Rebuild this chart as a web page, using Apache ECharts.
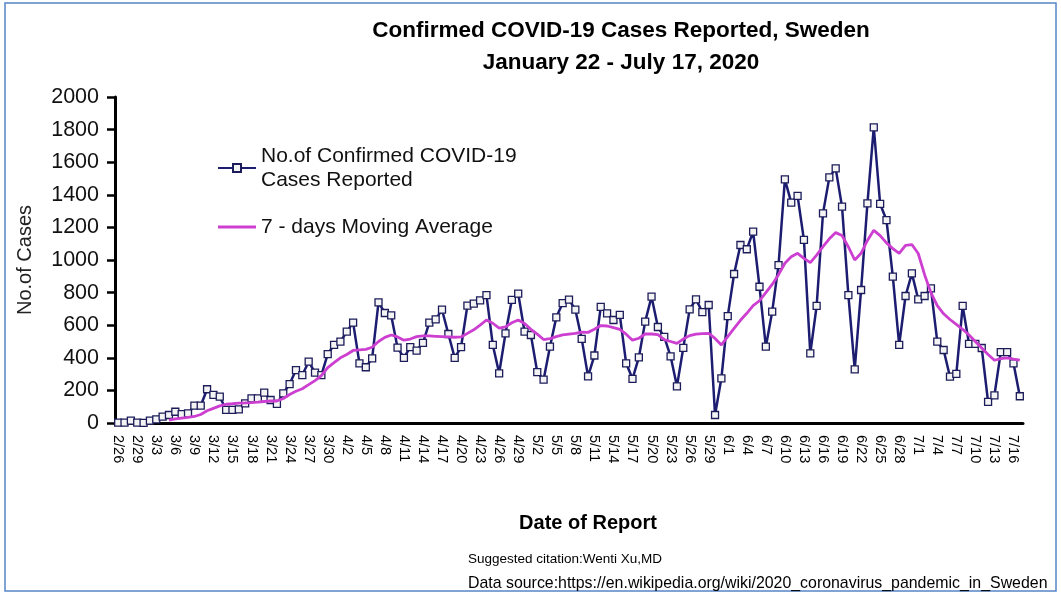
<!DOCTYPE html>
<html>
<head>
<meta charset="utf-8">
<script src="https://cdn.jsdelivr.net/npm/echarts@6/dist/echarts.min.js"></script>
<style>
  html, body { margin: 0; padding: 0; background: #fff; }
  #chart { width: 1061px; height: 594px; }
</style>
</head>
<body>
<div id="chart"></div>
<script>
// dates of report, 2/26 - 7/17
const febDays = ['2/26', '2/27', '2/28', '2/29']
const marDays = ['3/1', '3/2', '3/3', '3/4', '3/5', '3/6', '3/7', '3/8', '3/9', '3/10', '3/11', '3/12', '3/13', '3/14', '3/15', '3/16', '3/17', '3/18', '3/19', '3/20', '3/21', '3/22', '3/23', '3/24', '3/25', '3/26', '3/27', '3/28', '3/29', '3/30', '3/31']
const aprDays = ['4/1', '4/2', '4/3', '4/4', '4/5', '4/6', '4/7', '4/8', '4/9', '4/10', '4/11', '4/12', '4/13', '4/14', '4/15', '4/16', '4/17', '4/18', '4/19', '4/20', '4/21', '4/22', '4/23', '4/24', '4/25', '4/26', '4/27', '4/28', '4/29', '4/30']
const mayDays = ['5/1', '5/2', '5/3', '5/4', '5/5', '5/6', '5/7', '5/8', '5/9', '5/10', '5/11', '5/12', '5/13', '5/14', '5/15', '5/16', '5/17', '5/18', '5/19', '5/20', '5/21', '5/22', '5/23', '5/24', '5/25', '5/26', '5/27', '5/28', '5/29', '5/30', '5/31']
const junDays = ['6/1', '6/2', '6/3', '6/4', '6/5', '6/6', '6/7', '6/8', '6/9', '6/10', '6/11', '6/12', '6/13', '6/14', '6/15', '6/16', '6/17', '6/18', '6/19', '6/20', '6/21', '6/22', '6/23', '6/24', '6/25', '6/26', '6/27', '6/28', '6/29', '6/30']
const julDays = ['7/1', '7/2', '7/3', '7/4', '7/5', '7/6', '7/7', '7/8', '7/9', '7/10', '7/11', '7/12', '7/13', '7/14', '7/15', '7/16', '7/17']

// confirmed cases reported per day
const febCases = [2, 2, 14, 2]
const marCases = [1, 14, 22, 39, 49, 69, 55, 59, 106, 106, 207, 172, 162, 80, 80, 84, 121, 151, 151, 186, 141, 117, 182, 239, 325, 294, 376, 309, 294, 423, 479]
const aprCases = [499, 560, 616, 366, 342, 397, 740, 675, 660, 462, 400, 466, 444, 491, 616, 636, 695, 546, 400, 466, 720, 732, 752, 785, 479, 305, 550, 755, 794, 560]
const mayCases = [540, 312, 266, 468, 648, 736, 757, 695, 516, 286, 414, 712, 673, 632, 663, 366, 271, 402, 622, 775, 589, 528, 409, 225, 461, 697, 759, 680, 724, 49, 274]
const junCases = [656, 914, 1092, 1066, 1174, 836, 468, 683, 969, 1495, 1352, 1393, 1123, 427, 718, 1286, 1507, 1562, 1327, 785, 329, 816, 1348, 1814, 1344, 1245, 898, 479, 779, 918]
const julCases = [759, 779, 826, 499, 448, 284, 301, 718, 486, 486, 460, 130, 170, 435, 435, 366, 164]

// 7 - days moving average
const febAvg = [null, null, null, null]
const marAvg = [null, null, null, null, 18, 25, 30, 35, 40, 52, 75, 90, 105, 115, 118, 122, 123, 125, 128, 132, 135, 135, 150, 175, 195, 210, 235, 260, 290, 340, 370]
const aprAvg = [400, 420, 445, 448, 452, 465, 500, 525, 540, 528, 508, 515, 530, 534, 534, 532, 530, 528, 526, 528, 550, 572, 600, 632, 612, 582, 590, 615, 632, 610]
const mayAvg = [575, 545, 512, 518, 530, 540, 545, 550, 558, 556, 575, 598, 595, 585, 575, 545, 508, 520, 546, 546, 542, 512, 500, 488, 515, 536, 545, 548, 550, 519, 479]
const junAvg = [530, 580, 630, 673, 720, 750, 800, 850, 910, 980, 1020, 1041, 1010, 984, 1030, 1082, 1130, 1168, 1150, 1080, 1000, 1041, 1120, 1182, 1150, 1105, 1070, 1041, 1090, 1095]
const julAvg = [1040, 910, 800, 720, 670, 635, 605, 575, 540, 500, 460, 420, 385, 395, 400, 392, 385]

const dates = [].concat(febDays, marDays, aprDays, mayDays, junDays, julDays)
const cases = [].concat(febCases, marCases, aprCases, mayCases, junCases, julCases)
const movingAvg = [].concat(febAvg, marAvg, aprAvg, mayAvg, junAvg, julAvg)

const yTicks = { min: 0, max: 2000, interval: 200 }

const font = '"Liberation Sans", Arial, sans-serif'
const casesName = 'No.of Confirmed COVID-19\nCases Reported'
const avgName = '7 - days Moving Average'

const chart = echarts.init(document.getElementById('chart'))

const option = {
  backgroundColor: '#fff',
  animation: false,
  textStyle: { fontFamily: font },
  title: [
    {
      text: 'Confirmed COVID-19 Cases Reported, Sweden\nJanuary 22 - July 17, 2020',
      left: 616,
      top: 10,
      textAlign: 'center',
      textStyle: { fontFamily: font, fontSize: 22.5, fontWeight: 'bold', color: '#000', lineHeight: 32 }
    },
    {
      text: 'Date of Report',
      left: 583,
      top: 508,
      textAlign: 'center',
      textStyle: { fontFamily: font, fontSize: 20, fontWeight: 'bold', color: '#000' }
    },
    {
      text: 'Suggested citation:Wenti Xu,MD',
      left: 463,
      top: 547,
      textStyle: { fontFamily: font, fontSize: 13.5, fontWeight: 'normal', color: '#000' }
    },
    {
      text: 'Data source:https://en.wikipedia.org/wiki/2020_coronavirus_pandemic_in_Sweden',
      left: 463,
      top: 571,
      textStyle: { fontFamily: font, fontSize: 15.9, fontWeight: 'normal', color: '#000' }
    }
  ],
  legend: {
    orient: 'vertical',
    left: 212,
    top: 127,
    itemWidth: 38,
    itemHeight: 10,
    itemGap: 11,
    textStyle: { fontFamily: font, fontSize: 21, color: '#111', lineHeight: 24 },
    data: [
      { name: casesName, textStyle: { padding: [24, 0, 0, 0] } },
      { name: avgName, icon: 'path://M0,0 L38,0 L38,3 L0,3 Z' }
    ]
  },
  grid: {
    left: 115,
    right: 38,
    top: 97,
    bottom: 171,
    containLabel: false
  },
  xAxis: {
    type: 'category',
    data: dates,
    boundaryGap: true,
    axisLine: { lineStyle: { color: '#000', width: 3 } },
    axisTick: { interval: 2, length: 7, lineStyle: { color: '#000', width: 2.5 } },
    axisLabel: {
      interval: 2,
      rotate: -90,
      margin: 12,
      fontFamily: font,
      fontSize: 14.5,
      color: '#000'
    },
    splitLine: { show: false }
  },
  yAxis: {
    type: 'value',
    min: yTicks.min,
    max: yTicks.max,
    interval: yTicks.interval,
    name: 'No.of Cases',
    nameLocation: 'middle',
    nameRotate: 90,
    nameGap: 80,
    nameTextStyle: { fontFamily: font, fontSize: 20, color: '#222' },
    axisLine: { show: true, lineStyle: { color: '#000', width: 3 } },
    axisTick: { show: true, length: 8, lineStyle: { color: '#000', width: 2.5 } },
    axisLabel: {
      margin: 16,
      fontFamily: font,
      fontSize: 21.5,
      color: '#111',
      formatter: function (v) { return String(v) }
    },
    splitLine: { show: false }
  },
  series: [
    {
      name: casesName,
      type: 'line',
      data: cases,
      symbol: 'rect',
      symbolSize: 7,
      showAllSymbol: true,
      lineStyle: { color: '#1c1c70', width: 2.5 },
      itemStyle: { color: '#f4f4f4', borderColor: '#1c1c5a', borderWidth: 1.3 },
      z: 2
    },
    {
      name: avgName,
      type: 'line',
      data: movingAvg,
      symbol: 'none',
      smooth: false,
      lineStyle: { color: '#cc3fd0', width: 2.8 },
      itemStyle: { color: '#cc3fd0' },
      z: 3
    }
  ],
  graphic: [
    {
      type: 'rect',
      shape: { x: 5, y: 3, width: 1051, height: 588 },
      style: { fill: 'none', stroke: '#5585c8', lineWidth: 1.5 },
      silent: true
    }
  ]
}

chart.setOption(option)
</script>
</body>
</html>
